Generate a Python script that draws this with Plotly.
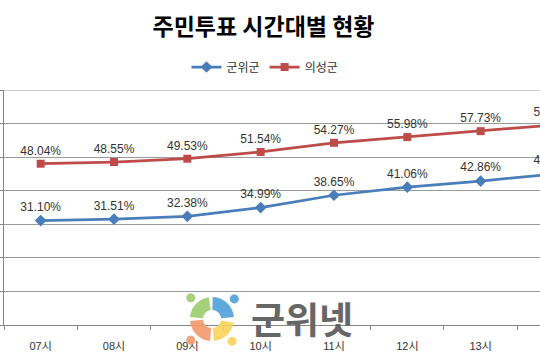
import math
import plotly.graph_objects as go

# ---- data ----
hours = ["07시", "08시", "09시", "10시", "11시", "12시", "13시", "14시"]
gunwi = [31.10, 31.51, 32.38, 34.99, 38.65, 41.06, 42.86, 45.00]
uiseong = [48.04, 48.55, 49.53, 51.54, 54.27, 55.98, 57.73, 59.60]
series_names = ["군위군", "의성군"]
title_text = "주민투표 시간대별 현황"
watermark_text = "군위넷"

W, H = 540, 360
ML, MR, MT, MB = 4, 0, 90, 35
PW, PH = W - ML - MR, H - MT - MB

def fmt(v):
    return [f"{x:.2f}%" for x in v]

fig = go.Figure()
fig.add_trace(go.Scatter(
    x=hours, y=gunwi, name=series_names[0], mode="lines+markers+text",
    text=fmt(gunwi), textposition="top center",
    textfont=dict(size=12, color="#333333", family="Liberation Sans, Arial, sans-serif"),
    line=dict(color="#4A7EBB", width=2.75),
    marker=dict(symbol="diamond", size=9, color="#4A7EBB"),
    cliponaxis=True,
))
fig.add_trace(go.Scatter(
    x=hours, y=uiseong, name=series_names[1], mode="lines+markers+text",
    text=fmt(uiseong), textposition="top center",
    textfont=dict(size=12, color="#333333", family="Liberation Sans, Arial, sans-serif"),
    line=dict(color="#BE4B48", width=2.75),
    marker=dict(symbol="square", size=8, color="#BE4B48"),
    cliponaxis=True,
))

# ---- watermark logo (decoration) ----
def to_paper(px, py):
    return (px - ML) / PW, (H - MB - py) / PH

def sector_path(cx, cy, r_in, r_out, a0, a1, n=24):
    pts = []
    for i in range(n + 1):
        a = math.radians(a0 + (a1 - a0) * i / n)
        pts.append((cx + r_out * math.cos(a), cy - r_out * math.sin(a)))
    for i in range(n + 1):
        a = math.radians(a1 - (a1 - a0) * i / n)
        pts.append((cx + r_in * math.cos(a), cy - r_in * math.sin(a)))
    conv = [to_paper(x, y) for x, y in pts]
    return "M " + " L ".join(f"{x:.5f},{y:.5f}" for x, y in conv) + " Z"

def circle_path(cx, cy, r, n=24):
    pts = [(cx + r * math.cos(2 * math.pi * i / n), cy - r * math.sin(2 * math.pi * i / n)) for i in range(n)]
    conv = [to_paper(x, y) for x, y in pts]
    return "M " + " L ".join(f"{x:.5f},{y:.5f}" for x, y in conv) + " Z"

cx, cy = 212, 319
petals = [
    (5, 88, "#4FA0D8", 42),
    (98, 175, "#9CCB6A", 135),
    (185, 265, "#F2996A", 225),
    (275, 350, "#F8D35A", 312),
]
shapes = []
for a0, a1, col, dang in petals:
    shapes.append(dict(type="path", xref="paper", yref="paper",
                       path=sector_path(cx, cy, 9, 22, a0, a1),
                       fillcolor=col, line=dict(width=0), layer="above", opacity=0.9))
    da = math.radians(dang)
    shapes.append(dict(type="path", xref="paper", yref="paper",
                       path=circle_path(cx + 30 * math.cos(da), cy - 30 * math.sin(da), 4.5),
                       fillcolor=col, line=dict(width=0), layer="above", opacity=0.9))
# top border gridline at 70%
shapes.append(dict(type="line", xref="paper", yref="y", x0=0, x1=1, y0=70, y1=70,
                   line=dict(color="#9A9A9A", width=1), layer="below"))

wx, wy = to_paper(302, 318)
fig.add_annotation(x=wx, y=wy, xref="paper", yref="paper", text=f"<b>{watermark_text}</b>",
                   showarrow=False, xanchor="center", yanchor="middle",
                   font=dict(size=37, color="#666666", family="Noto Sans CJK KR"))

fig.update_layout(
    width=W, height=H,
    margin=dict(l=ML, r=MR, t=MT, b=MB, autoexpand=False),
    paper_bgcolor="white", plot_bgcolor="white",
    title=dict(text=f"<b>{title_text}</b>", x=263.5 / W, xanchor="center",
               y=1 - 27 / H, yanchor="middle",
               font=dict(size=23, color="#000000", family="Noto Sans CJK KR")),
    legend=dict(orientation="h", xref="container", x=265 / W, xanchor="center",
                yref="container", y=1 - 67 / H, yanchor="middle",
                font=dict(size=12, color="#333333", family="Noto Sans CJK KR"),
                bgcolor="rgba(0,0,0,0)"),
    showlegend=True,
    shapes=shapes,
    font=dict(family="Liberation Sans, Noto Sans CJK KR"),
)
fig.update_xaxes(type="category", range=[-0.5, -0.5 + PW / 73.33],
                 showgrid=False, showline=True, linecolor="#868686", linewidth=1,
                 ticks="outside", tickson="boundaries", ticklen=4, tickcolor="#868686",
                 ticklabelstandoff=11,
                 tickfont=dict(size=11, color="#333333", family="Liberation Sans, Noto Sans CJK KR"),
                 fixedrange=True, automargin=False)
fig.update_yaxes(range=[0, 70], dtick=10, showgrid=True, gridcolor="#9A9A9A", gridwidth=1,
                 showline=True, linecolor="#868686", linewidth=1,
                 ticks="outside", ticklen=4, tickcolor="#868686",
                 showticklabels=False, zeroline=False, fixedrange=True, automargin=False)

fig.write_html("out.html", config={"displayModeBar": False},
               post_script="document.body.style.margin='0';document.body.style.overflow='hidden';")
